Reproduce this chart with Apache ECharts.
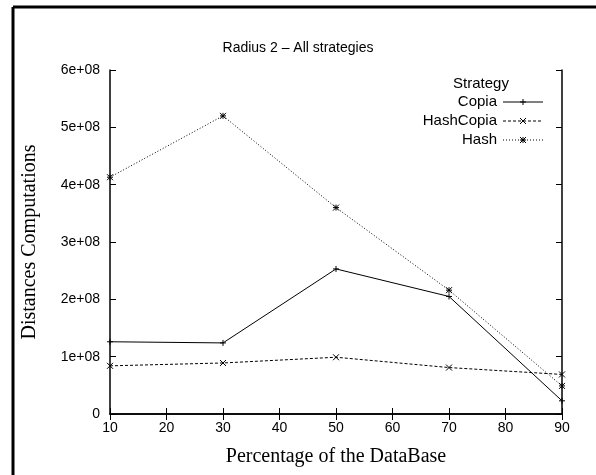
<!DOCTYPE html>
<html>
<head>
<meta charset="utf-8">
<script src="https://cdn.jsdelivr.net/npm/echarts@6/dist/echarts.min.js"></script>
<style>html,body{margin:0;padding:0;background:#fff}#c{width:596px;height:475px}</style>
</head>
<body>
<div id="c"></div>
<script>
var percentages = [10, 30, 50, 70, 90];
var copia = [1.26e8, 1.24e8, 2.53e8, 2.05e8, 0.23e8];
var hashCopia = [0.84e8, 0.89e8, 0.99e8, 0.81e8, 0.69e8];
var hash = [4.13e8, 5.20e8, 3.60e8, 2.16e8, 0.49e8];
var yTickLabels = ['0', '1e+08', '2e+08', '3e+08', '4e+08', '5e+08', '6e+08'];
var seriesNames = ['Copia', 'HashCopia', 'Hash'];

function pairs(vals) { return percentages.map(function (p, i) { return [p, vals[i]]; }); }

var plusSym = 'path://M0,5L10,5M5,0L5,10';
var crossSym = 'path://M0,0L10,10M10,0L0,10';
var starSym = 'path://M0,0L10,10M10,0L0,10M0,5L10,5M5,0L5,10';

var chart = echarts.init(document.getElementById('c'));
var sansFont = '"Liberation Sans", Arial, sans-serif';
var serifFont = '"Liberation Serif", "Times New Roman", serif';
var G = {left: 110, top: 70, right: 34, bottom: 61};

function mk(name, vals, sym, type) {
  return {
    name: name, type: 'line', data: pairs(vals),
    symbol: sym, symbolSize: 6, showSymbol: true,
    lineStyle: {color: '#000', width: 1, type: type},
    itemStyle: {color: 'none', borderColor: '#000', borderWidth: 1},
    emphasis: {disabled: true}, animation: false, z: 3
  };
}

chart.setOption({
  animation: false,
  title: {
    text: 'Radius 2 \u2013 All strategies', left: 'center', top: 36,
    textStyle: {fontFamily: sansFont, fontSize: 14, fontWeight: 'normal', color: '#000'}
  },
  grid: G,
  legend: {show: false},
  xAxis: [{
    type: 'value', min: 10, max: 90, interval: 10,
    name: 'Percentage of the DataBase', nameLocation: 'middle', nameGap: 33,
    nameTextStyle: {fontFamily: serifFont, fontSize: 20, color: '#000'},
    axisLine: {lineStyle: {color: '#000', width: 1.5}},
    axisTick: {inside: true, length: 6, lineStyle: {color: '#000'}},
    axisLabel: {fontFamily: sansFont, fontSize: 14, color: '#000', margin: 7},
    splitLine: {show: false}
  }, {
    type: 'value', min: 10, max: 90, interval: 10, position: 'top',
    axisLine: {lineStyle: {color: '#000', width: 1.5}},
    axisTick: {inside: true, length: 6, lineStyle: {color: '#000'}},
    axisLabel: {show: false}, splitLine: {show: false}
  }],
  yAxis: [{
    type: 'value', min: 0, max: 6e8, interval: 1e8,
    name: 'Distances Computations', nameLocation: 'middle', nameGap: 70,
    nameTextStyle: {fontFamily: serifFont, fontSize: 20, color: '#000'},
    axisLine: {show: true, lineStyle: {color: '#000', width: 1.5}},
    axisTick: {show: true, inside: true, length: 6, lineStyle: {color: '#000'}},
    axisLabel: {fontFamily: sansFont, fontSize: 14, color: '#000', margin: 10,
      formatter: function (v) { return yTickLabels[Math.round(v / 1e8)]; }},
    splitLine: {show: false}
  }, {
    type: 'value', min: 0, max: 6e8, interval: 1e8, position: 'right',
    axisLine: {show: true, lineStyle: {color: '#000', width: 1.5}},
    axisTick: {show: true, inside: true, length: 6, lineStyle: {color: '#000'}},
    axisLabel: {show: false}, splitLine: {show: false}
  }],
  series: [
    mk(seriesNames[0], copia, plusSym, 'solid'),
    mk(seriesNames[1], hashCopia, crossSym, [3, 2]),
    mk(seriesNames[2], hash, starSym, [1, 2])
  ]
});

var lx1 = 503, lx2 = 543, textRight = 497;
var rows = [102, 121, 140];
var dashes = [null, [3, 2], [1, 2]];
var syms = ['plus', 'cross', 'star'];
var gfx = [
  {type: 'line', shape: {x1: 13, y1: 7, x2: 13, y2: 475}, style: {stroke: '#000', lineWidth: 3}},
  {type: 'line', shape: {x1: 13, y1: 7, x2: 596, y2: 7}, style: {stroke: '#000', lineWidth: 3}},
  {type: 'text', style: {text: 'Strategy', x: 481, y: 84, textAlign: 'center', textVerticalAlign: 'middle',
    font: '15px ' + sansFont, fill: '#000'}}
];
seriesNames.forEach(function (n, i) {
  var y = rows[i];
  gfx.push({type: 'text', style: {text: n, x: textRight, y: y, textAlign: 'right', textVerticalAlign: 'middle',
    font: '15px ' + sansFont, fill: '#000'}});
  gfx.push({type: 'line', shape: {x1: lx1, y1: y, x2: lx2, y2: y},
    style: {stroke: '#000', lineWidth: 1, lineDash: dashes[i]}});
  var cx = (lx1 + lx2) / 2, r = 3;
  if (syms[i] === 'plus' || syms[i] === 'star') {
    gfx.push({type: 'line', shape: {x1: cx - r, y1: y, x2: cx + r, y2: y}, style: {stroke: '#000', lineWidth: 1}});
    gfx.push({type: 'line', shape: {x1: cx, y1: y - r, x2: cx, y2: y + r}, style: {stroke: '#000', lineWidth: 1}});
  }
  if (syms[i] === 'cross' || syms[i] === 'star') {
    gfx.push({type: 'line', shape: {x1: cx - r, y1: y - r, x2: cx + r, y2: y + r}, style: {stroke: '#000', lineWidth: 1}});
    gfx.push({type: 'line', shape: {x1: cx - r, y1: y + r, x2: cx + r, y2: y - r}, style: {stroke: '#000', lineWidth: 1}});
  }
});
chart.setOption({graphic: gfx});
</script>
</body>
</html>
